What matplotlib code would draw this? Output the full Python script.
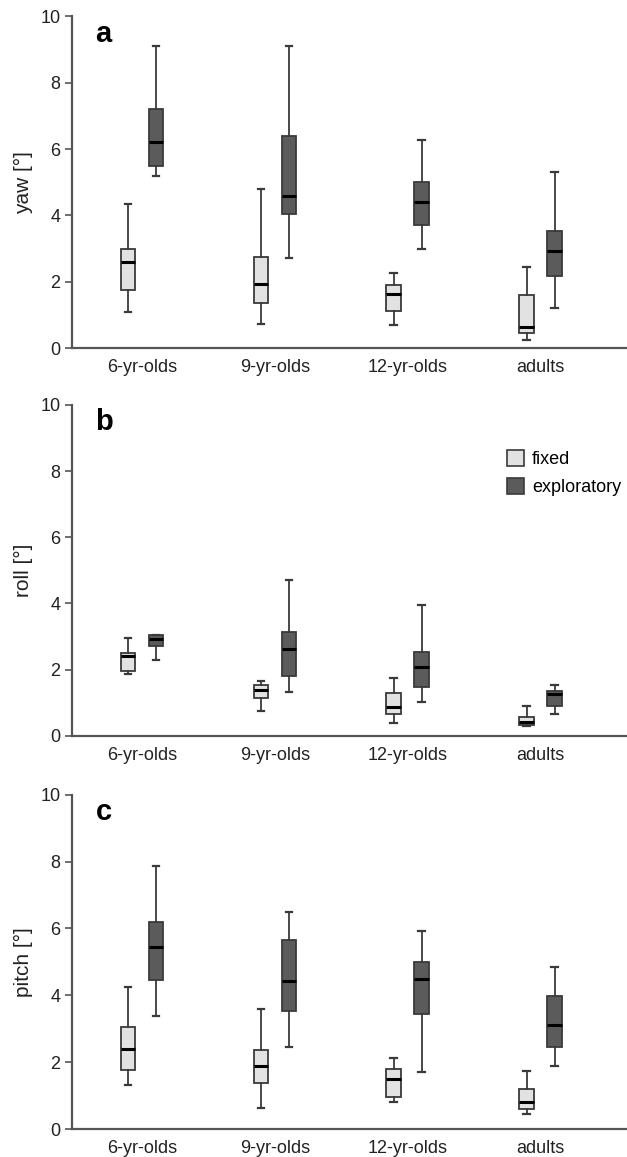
import numpy as np
import matplotlib.pyplot as plt
import matplotlib as mpl
from matplotlib.patches import Patch

mpl.rcParams["font.family"] = ["Liberation Sans", "DejaVu Sans"]
mpl.rcParams["font.size"] = 12

# =========================
# Data: low whisker, Q1, median, Q3, high whisker
# =========================
groups = ["6-yr-olds", "9-yr-olds", "12-yr-olds", "adults"]
conditions = ["fixed", "exploratory"]

yaw_fixed = [
    [1.10, 1.75, 2.60, 3.00, 4.35],
    [0.72, 1.35, 1.95, 2.75, 4.80],
    [0.69, 1.11, 1.63, 1.90, 2.27],
    [0.24, 0.45, 0.64, 1.59, 2.45],
]
yaw_expl = [
    [5.20, 5.50, 6.20, 7.20, 9.10],
    [2.72, 4.05, 4.60, 6.40, 9.10],
    [3.00, 3.70, 4.39, 5.01, 6.27],
    [1.20, 2.17, 2.92, 3.52, 5.31],
]

roll_fixed = [
    [1.86, 1.96, 2.40, 2.50, 2.97],
    [0.76, 1.14, 1.39, 1.54, 1.66],
    [0.38, 0.65, 0.86, 1.29, 1.74],
    [0.31, 0.33, 0.43, 0.56, 0.89],
]
roll_expl = [
    [2.30, 2.72, 2.92, 3.06, 3.06],
    [1.32, 1.82, 2.63, 3.13, 4.71],
    [1.01, 1.49, 2.09, 2.52, 3.96],
    [0.65, 0.91, 1.26, 1.36, 1.54],
]

pitch_fixed = [
    [1.32, 1.77, 2.38, 3.06, 4.24],
    [0.64, 1.37, 1.87, 2.35, 3.58],
    [0.80, 0.97, 1.49, 1.79, 2.12],
    [0.45, 0.59, 0.81, 1.19, 1.72],
]
pitch_expl = [
    [3.39, 4.46, 5.44, 6.19, 7.87],
    [2.45, 3.54, 4.42, 5.64, 6.49],
    [1.69, 3.45, 4.48, 4.99, 5.91],
    [1.87, 2.45, 3.10, 3.97, 4.83],
]

panels = [
    ("a", "yaw [°]", yaw_fixed, yaw_expl),
    ("b", "roll [°]", roll_fixed, roll_expl),
    ("c", "pitch [°]", pitch_fixed, pitch_expl),
]

# =========================
# Style
# =========================
FILL = {"fixed": "#e2e2e2", "exploratory": "#5b5b5b"}
EDGE = "#3a3a3a"
AXCOL = "#555555"
TXT = "#222222"
OFFSET = 0.105
WIDTH = 0.11


def to_stats(rows):
    return [
        {"whislo": r[0], "q1": r[1], "med": r[2], "q3": r[3], "whishi": r[4], "fliers": []}
        for r in rows
    ]


fig = plt.figure(figsize=(6.27, 11.57), dpi=100)
ax_rects = [
    [0.115, 0.699, 0.885, 0.287],
    [0.115, 0.364, 0.885, 0.286],
    [0.115, 0.0242, 0.885, 0.289],
]

x = np.arange(len(groups))
for rect, (letter, ylabel, fixed, expl) in zip(ax_rects, panels):
    ax = fig.add_axes(rect)
    for cond, rows, off in [("fixed", fixed, -OFFSET), ("exploratory", expl, OFFSET)]:
        ax.bxp(
            to_stats(rows),
            positions=x + off,
            widths=WIDTH,
            capwidths=0.05,
            patch_artist=True,
            showfliers=False,
            manage_ticks=False,
            boxprops=dict(facecolor=FILL[cond], edgecolor=EDGE, linewidth=1.3),
            whiskerprops=dict(color=EDGE, linewidth=1.3),
            capprops=dict(color=EDGE, linewidth=1.6),
            medianprops=dict(color="black", linewidth=2.2),
        )

    ax.set_xlim(-0.526, 3.65)
    ax.set_ylim(0, 10)
    ax.set_yticks([0, 2, 4, 6, 8, 10])
    ax.set_xticks(x)
    ax.set_xticklabels(groups)
    ax.tick_params(axis="x", length=0, pad=8, labelsize=13, colors=TXT)
    ax.tick_params(axis="y", length=5, width=1.2, color=AXCOL, labelsize=13,
                   labelcolor=TXT)
    ax.set_ylabel(ylabel, fontsize=15, color=TXT, labelpad=5)
    for s in ["top", "right"]:
        ax.spines[s].set_visible(False)
    for s in ["left", "bottom"]:
        ax.spines[s].set_color(AXCOL)
        ax.spines[s].set_linewidth(1.6)
    ax.text(0.042, 0.99, letter, transform=ax.transAxes, fontsize=21,
            fontweight="bold", va="top", ha="left")

    if letter == "b":
        handles = [Patch(facecolor=FILL[c], edgecolor=EDGE, linewidth=1.2, label=c)
                   for c in conditions]
        ax.legend(handles=handles, loc="upper left", bbox_to_anchor=(0.77, 0.885),
                  frameon=False, fontsize=13, handlelength=0.95, handleheight=1.0,
                  handletextpad=0.45, labelspacing=0.5, borderaxespad=0)

fig.savefig("out.png", dpi=100)
